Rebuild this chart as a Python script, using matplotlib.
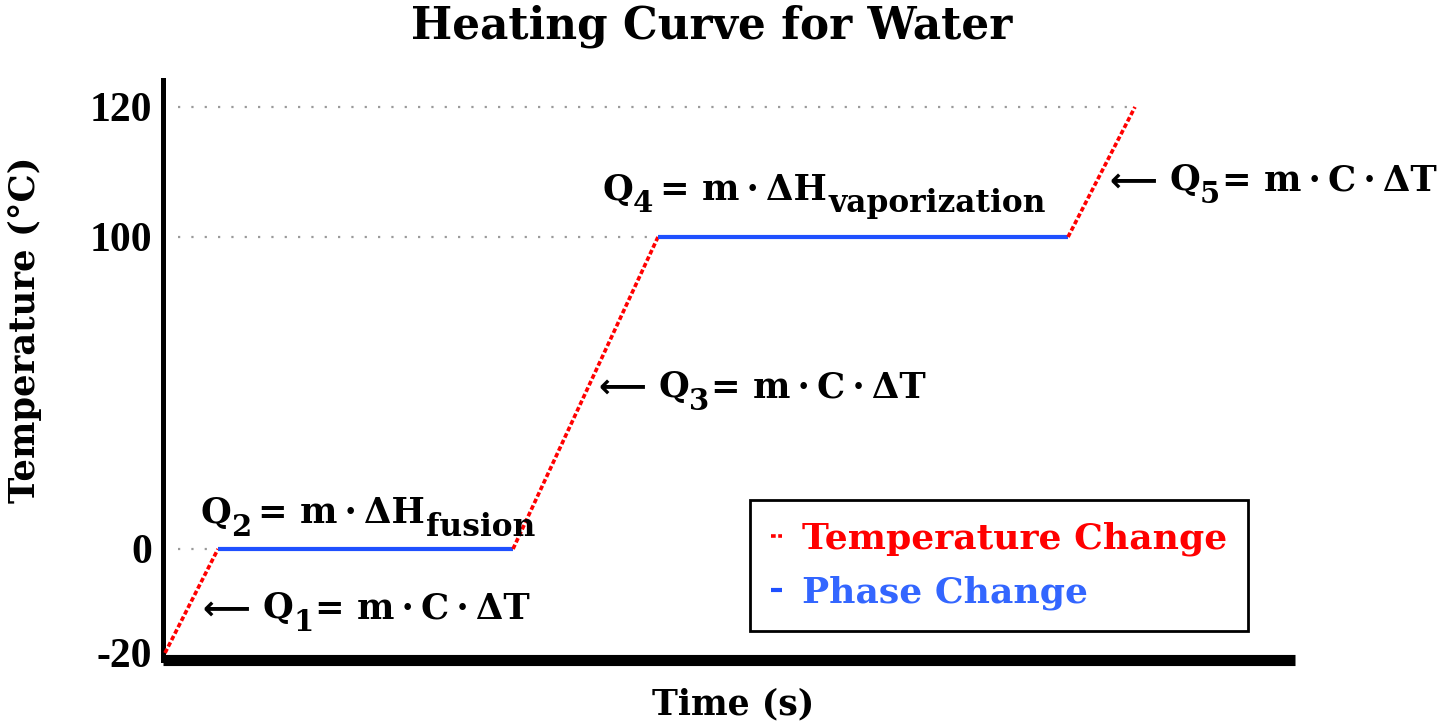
import numpy as np
import matplotlib
matplotlib.use('Agg')
import matplotlib.pyplot as plt

plt.rcParams['font.family'] = 'DejaVu Serif'
plt.rcParams['font.weight'] = 'bold'

# heating curve, time in arbitrary units
time = [0.2, 5.5, 35.0, 49.5, 90.5, 97.2]
temperature = [-20, 0, 0, 100, 100, 120]
segment_kind = ['temp', 'phase', 'temp', 'phase', 'temp']

y_ticks = [-20, 0, 100, 120]
guide_temps = [0, 100, 120]

kind_labels = {'temp': 'Temperature Change', 'phase': 'Phase Change'}
kind_colors = {'temp': '#ff0000', 'phase': '#1f50ff'}
label_colors = ['#ff0000', '#3366ff']

dot = '\u2009·\u2009'
heat_eq = '= m' + dot + 'C' + dot + 'ΔT'
latent_eq = '= m' + dot + 'ΔH'

# equations: (text, role) pieces, written one after the other
eq_pieces = [
    [('⟵', 'arrow'), ('Q', 'main'), ('1', 'sub'), (heat_eq, 'main')],
    [('Q', 'main'), ('2', 'sub'), (latent_eq, 'main_sp'), ('fusion', 'word')],
    [('⟵', 'arrow'), ('Q', 'main'), ('3', 'sub'), (heat_eq, 'main')],
    [('Q', 'main'), ('4', 'sub'), (latent_eq, 'main_sp'), ('vaporization', 'word')],
    [('⟵', 'arrow'), ('Q', 'main'), ('5', 'sub'), (heat_eq, 'main')],
]
eq_time = [3.9, 3.7, 43.5, 43.9, 94.6]
eq_temp = [-13.3, 8.3, 48.7, 105.7, 107.2]

# role -> fontsize, drop (pt), gap before (pt), family
piece_style = {
    'arrow': (24, 0, 0, 'DejaVu Sans'),
    'main': (25.5, 0, 9, 'DejaVu Serif'),
    'main_sp': (25.5, 0, 5, 'DejaVu Serif'),
    'sub': (21, 9, 0, 'DejaVu Serif'),
    'word': (22.5, 9, 1, 'DejaVu Serif'),
}

# the picture's temperature axis is schematic: each interval gets its own stretch
scale_t = [-40, -20, 0, 100, 120, 140]
scale_p = [-97, 7, 111, 423, 553, 683]


def forward(t):
    return np.interp(t, scale_t, scale_p)


def inverse(p):
    return np.interp(p, scale_p, scale_t)


def write_equation(ax, x, y, pieces):
    prev = None
    for s, role in pieces:
        size, drop, gap, fam = piece_style[role]
        if prev is None:
            prev = ax.text(x, y, s, fontsize=size, family=fam,
                           va='baseline', ha='left')
        else:
            if prev.get_text() in ('1', '3', '5'):
                gap = 1
            prev = ax.annotate(s, xy=(1, y), xycoords=(prev, 'data'),
                               xytext=(gap, -drop), textcoords='offset points',
                               fontsize=size, family=fam,
                               va='baseline', ha='left')


fig = plt.figure(figsize=(14.4, 7.27), dpi=100)
ax = fig.add_axes([163 / 1440, 1 - 660 / 727, 1132 / 1440, 580 / 727])
ax.set_yscale('function', functions=(forward, inverse))

seen = set()
for i, kind in enumerate(segment_kind):
    lab = kind_labels[kind] if kind not in seen else None
    seen.add(kind)
    if kind == 'temp':
        ax.plot(time[i:i + 2], temperature[i:i + 2], color=kind_colors[kind],
                linestyle=(0, (1.3, 0.7)), lw=2.6, label=lab, zorder=3)
    else:
        ax.plot(time[i:i + 2], temperature[i:i + 2], color=kind_colors[kind],
                lw=3.0, label=lab, zorder=3, solid_capstyle='butt')

# dotted guides from the axis to the curve
for g in guide_temps:
    x_end = time[temperature.index(g)]
    ax.plot([1.5, x_end], [g, g], color='#9a9a9a', lw=1.6,
            linestyle=(0, (1, 5)), zorder=1)

ax.set_xlim(0, 113.2)
ax.set_ylim(-21.35, 124.15)
ax.set_yticks(y_ticks)
ax.set_yticklabels([str(v) for v in y_ticks], family='Liberation Serif',
                   fontweight='bold')
ax.set_xticks([])
ax.tick_params(axis='y', length=0, pad=8, labelsize=30)

for side in ['top', 'right']:
    ax.spines[side].set_visible(False)
ax.spines['left'].set_linewidth(3.6)
ax.spines['bottom'].set_linewidth(8)
ax.spines['bottom'].set_capstyle('butt')

for pieces, x, y in zip(eq_pieces, eq_time, eq_temp):
    write_equation(ax, x, y, pieces)

ax.set_ylabel('Temperature (°C)', fontsize=25.5, fontweight='bold')
ax.yaxis.set_label_coords(-0.107, 0.569)
ax.set_xlabel('Time (s)', fontsize=25, fontweight='bold')
ax.xaxis.set_label_coords(0.5035, -0.047)

leg = ax.legend(loc='lower right', bbox_to_anchor=(0.9585, 0.05),
                fontsize=26, handlelength=0.3, handletextpad=0.55,
                labelcolor=label_colors, fancybox=False,
                edgecolor='black', framealpha=1, borderpad=0.58,
                labelspacing=0.55, borderaxespad=0)
leg.get_frame().set_linewidth(2)

fig.text(711.5 / 1440, 1 - 4 / 727, 'Heating Curve for Water', ha='center',
         va='top', fontsize=31.5, fontweight='bold')

fig.savefig('out.png', dpi=100)
